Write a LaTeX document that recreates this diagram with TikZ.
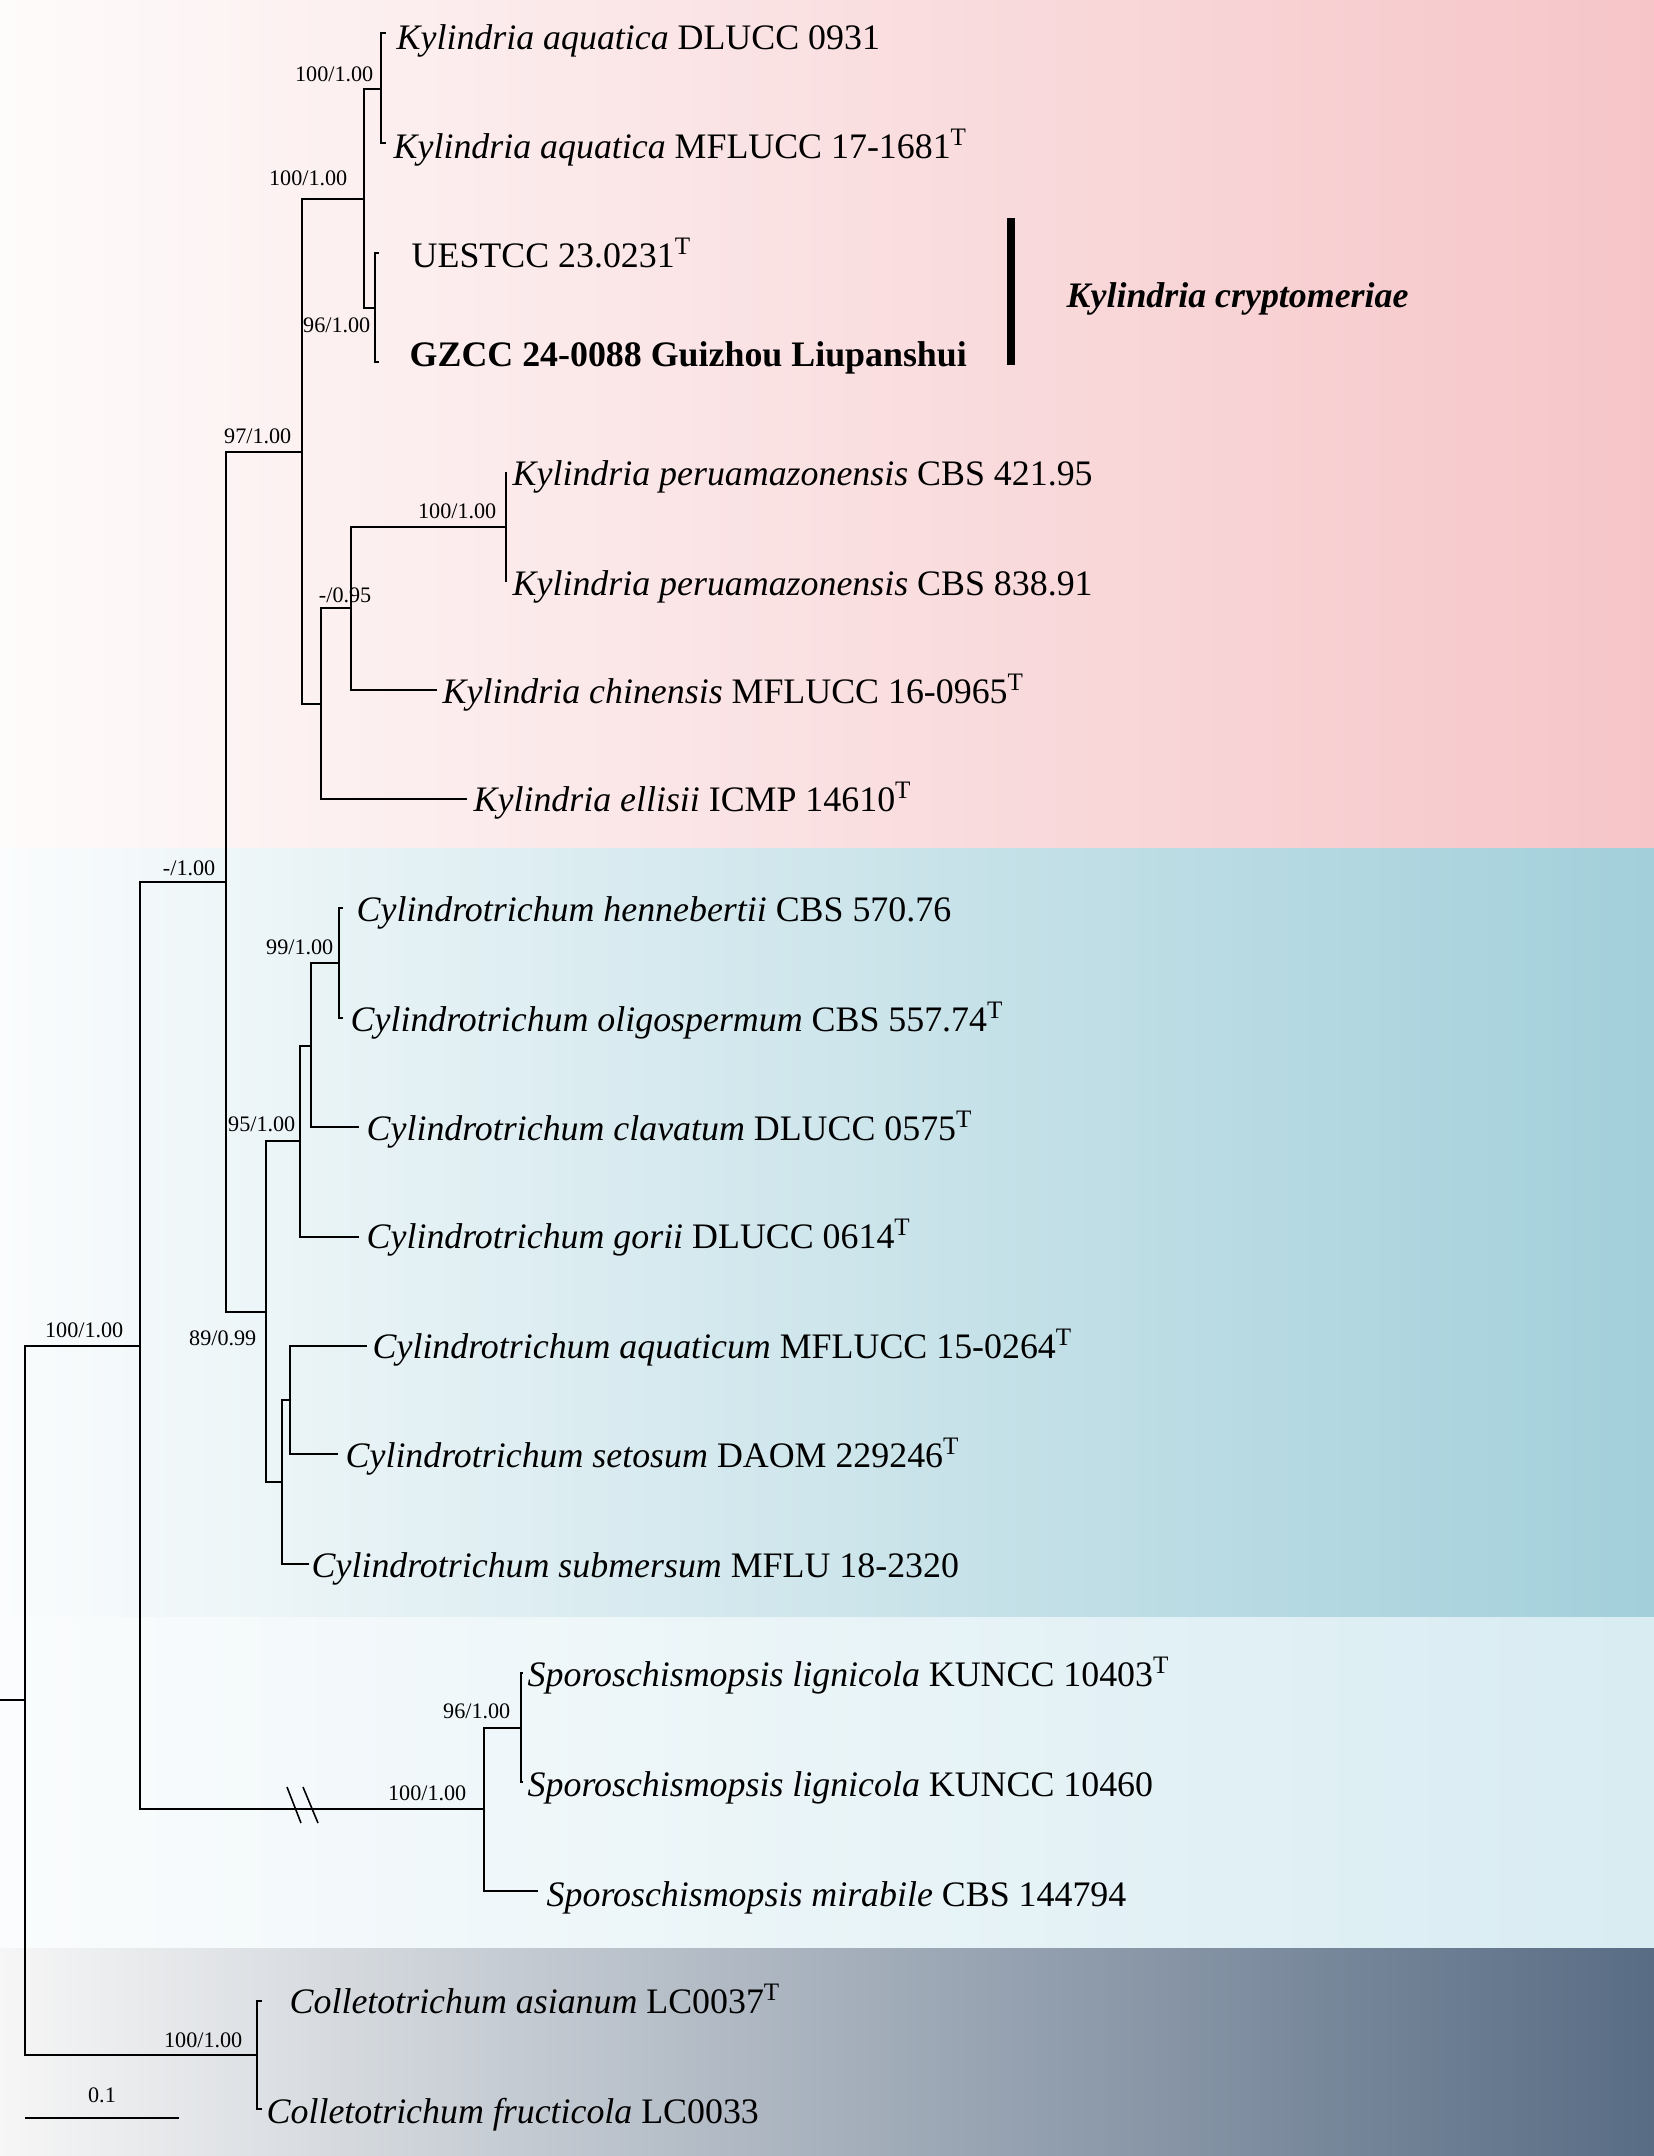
\documentclass[tikz,border=0pt]{standalone}
\usepackage{fontspec}
\setmainfont{Liberation Serif}
\definecolor{pinkL}{RGB}{254,251,251}
\definecolor{pinkR}{RGB}{246,197,200}
\definecolor{blueL}{RGB}{250,252,253}
\definecolor{blueR}{RGB}{162,207,218}
\definecolor{liteL}{RGB}{250,252,253}
\definecolor{liteR}{RGB}{216,236,242}
\definecolor{greyL}{RGB}{246,246,246}
\definecolor{greyR}{RGB}{88,108,132}
\tikzset{
  br/.style={line width=0.45pt, black},
  taxon/.style={anchor=base west, inner sep=0pt, font=\fontsize{10.2}{12}\selectfont},
  bsup/.style={anchor=base east, inner sep=0pt, font=\fontsize{6.3}{7}\selectfont},
}
\begin{document}
\begin{tikzpicture}[x=0.01cm,y=-0.01cm]
\useasboundingbox (0,0) rectangle (1654,2156);
% background bands
\shade[left color=pinkL, right color=pinkR] (0,0) rectangle (1654,848);
\shade[left color=blueL, right color=blueR] (0,848) rectangle (1654,1617);
\shade[left color=liteL, right color=liteR] (0,1617) rectangle (1654,1948);
\shade[left color=greyL, right color=greyR] (0,1948) rectangle (1654,2156);

% internal nodes
\coordinate (root) at (0,1700);
\coordinate (A) at (25,1700);
\coordinate (B) at (140,1346);
\coordinate (Col) at (257,2055);
\coordinate (C) at (226,882);
\coordinate (Sp) at (484,1809);
\coordinate (K) at (302,452);
\coordinate (Cy) at (266,1312);
\coordinate (K1) at (364,199);
\coordinate (K2) at (321,704);
\coordinate (Kaq) at (381,89);
\coordinate (Kcr) at (375,308);
\coordinate (Kpc) at (351,608);
\coordinate (Kpe) at (506,527);
\coordinate (Cy1) at (300,1141);
\coordinate (Cy2) at (282,1482);
\coordinate (Cy3) at (311,1046);
\coordinate (Cy4) at (339,963);
\coordinate (Cy5) at (290,1400);
\coordinate (Sp1) at (521,1728);
% tips
\coordinate (t1) at (386,33);
\coordinate (t2) at (386,143);
\coordinate (t3) at (379,253);
\coordinate (t4) at (379,362);
\coordinate (t5) at (506,472);
\coordinate (t6) at (506,582);
\coordinate (t7) at (437,690);
\coordinate (t8) at (467,799);
\coordinate (t9) at (343,908);
\coordinate (t10) at (343,1018);
\coordinate (t11) at (359,1127);
\coordinate (t12) at (359,1237);
\coordinate (t13) at (367,1346);
\coordinate (t14) at (338,1454);
\coordinate (t15) at (309,1564);
\coordinate (t16) at (523,1673);
\coordinate (t17) at (523,1782);
\coordinate (t18) at (538,1891);
\coordinate (t19) at (262,2001);
\coordinate (t20) at (262,2109);

% branches
\draw[br] (root) -- (A);
\draw[br] (A) |- (B);
\draw[br] (A) |- (Col);
\draw[br] (B) |- (C);
\draw[br] (B) |- (Sp);
\draw[br] (C) |- (K);
\draw[br] (C) |- (Cy);
\draw[br] (K) |- (K1);
\draw[br] (K) |- (K2);
\draw[br] (K1) |- (Kaq);
\draw[br] (K1) |- (Kcr);
\draw[br] (Kaq) |- (t1);
\draw[br] (Kaq) |- (t2);
\draw[br] (Kcr) |- (t3);
\draw[br] (Kcr) |- (t4);
\draw[br] (K2) |- (Kpc);
\draw[br] (K2) |- (t8);
\draw[br] (Kpc) |- (Kpe);
\draw[br] (Kpc) |- (t7);
\draw[br] (Kpe) |- (t5);
\draw[br] (Kpe) |- (t6);
\draw[br] (Cy) |- (Cy1);
\draw[br] (Cy) |- (Cy2);
\draw[br] (Cy1) |- (Cy3);
\draw[br] (Cy1) |- (t12);
\draw[br] (Cy3) |- (Cy4);
\draw[br] (Cy3) |- (t11);
\draw[br] (Cy4) |- (t9);
\draw[br] (Cy4) |- (t10);
\draw[br] (Cy2) |- (Cy5);
\draw[br] (Cy2) |- (t15);
\draw[br] (Cy5) |- (t13);
\draw[br] (Cy5) |- (t14);
\draw[br] (Sp) |- (Sp1);
\draw[br] (Sp) |- (t18);
\draw[br] (Sp1) |- (t16);
\draw[br] (Sp1) |- (t17);
\draw[br] (Col) |- (t19);
\draw[br] (Col) |- (t20);
% break marks
\draw[br] (287,1787) -- (301,1823);
\draw[br] (303,1787) -- (318,1823);

% taxa
\node[taxon] (l1) at (396,49) {\textit{Kylindria aquatica} DLUCC 0931};
\node[taxon] (l2) at (393,158) {\textit{Kylindria aquatica} MFLUCC 17-1681\textsuperscript{T}};
\node[taxon] (l3) at (411,267) {UESTCC 23.0231\textsuperscript{T}};
\node[taxon] (l4) at (409,366) {\textbf{GZCC 24-0088 Guizhou Liupanshui}};
\node[taxon] (l5) at (512,485) {\textit{Kylindria peruamazonensis} CBS 421.95};
\node[taxon] (l6) at (512,595) {\textit{Kylindria peruamazonensis} CBS 838.91};
\node[taxon] (l7) at (442,703) {\textit{Kylindria chinensis} MFLUCC 16-0965\textsuperscript{T}};
\node[taxon] (l8) at (473,811) {\textit{Kylindria ellisii} ICMP 14610\textsuperscript{T}};
\node[taxon] (l9) at (356,921) {\textit{Cylindrotrichum hennebertii} CBS 570.76};
\node[taxon] (l10) at (350,1031) {\textit{Cylindrotrichum oligospermum} CBS 557.74\textsuperscript{T}};
\node[taxon] (l11) at (366,1140) {\textit{Cylindrotrichum clavatum} DLUCC 0575\textsuperscript{T}};
\node[taxon] (l12) at (366,1248) {\textit{Cylindrotrichum gorii} DLUCC 0614\textsuperscript{T}};
\node[taxon] (l13) at (372,1358) {\textit{Cylindrotrichum aquaticum} MFLUCC 15-0264\textsuperscript{T}};
\node[taxon] (l14) at (345,1467) {\textit{Cylindrotrichum setosum} DAOM 229246\textsuperscript{T}};
\node[taxon] (l15) at (311,1577) {\textit{Cylindrotrichum submersum} MFLU 18-2320};
\node[taxon] (l16) at (527,1686) {\textit{Sporoschismopsis lignicola} KUNCC 10403\textsuperscript{T}};
\node[taxon] (l17) at (527,1796) {\textit{Sporoschismopsis lignicola} KUNCC 10460};
\node[taxon] (l18) at (546,1906) {\textit{Sporoschismopsis mirabile} CBS 144794};
\node[taxon] (l19) at (289,2013) {\textit{Colletotrichum asianum} LC0037\textsuperscript{T}};
\node[taxon] (l20) at (266,2123) {\textit{Colletotrichum fructicola} LC0033};

% clade bar
\coordinate (barT) at (1011,218);
\coordinate (barB) at (1011,365);
\draw[line width=2pt] (barT) -- (barB);
\node[taxon] (clade) at (1066,307) {\textbf{\textit{Kylindria cryptomeriae}}};

% support values
\node[bsup] (s1) at (374,81) {100/1.00};
\node[bsup] (s2) at (348,185) {100/1.00};
\node[bsup] (s3) at (371,332) {96/1.00};
\node[bsup] (s4) at (292,443) {97/1.00};
\node[bsup] (s5) at (497,518) {100/1.00};
\node[bsup] (s6) at (372,602) {-/0.95};
\node[bsup] (s7) at (216,875) {-/1.00};
\node[bsup] (s8) at (334,954) {99/1.00};
\node[bsup] (s9) at (296,1131) {95/1.00};
\node[bsup] (s10) at (257,1345) {89/0.99};
\node[bsup] (s11) at (124,1337) {100/1.00};
\node[bsup] (s12) at (511,1718) {96/1.00};
\node[bsup] (s13) at (467,1800) {100/1.00};
\node[bsup] (s14) at (243,2047) {100/1.00};

% scale bar
\coordinate (sbL) at (25,2118);
\coordinate (sbR) at (179,2118);
\draw[br] (sbL) -- (sbR);
\node[bsup, anchor=base] (sbl) at (102,2102) {0.1};
\end{tikzpicture}
\end{document}
